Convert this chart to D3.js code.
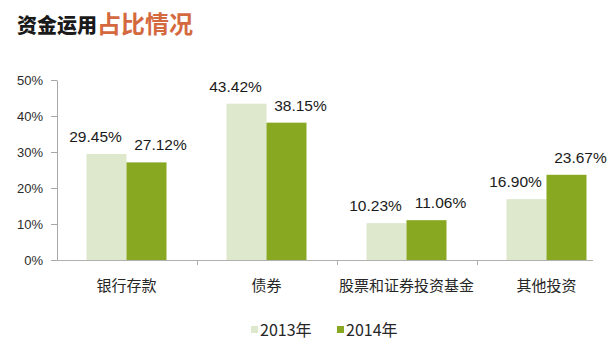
<!DOCTYPE html>
<html>
<head>
<meta charset="utf-8">
<script src="https://cdn.jsdelivr.net/npm/d3@7"></script>
<style>
  body { margin: 0; background: #ffffff; }
  svg { display: block; }
</style>
</head>
<body>
<svg id="chart" width="611" height="352"></svg>
<script>
// data
const categories = ["银行存款", "债券", "股票和证券投资基金", "其他投资"];
const seriesNames = ["2013年", "2014年"];
const values2013 = [29.45, 43.42, 10.23, 16.90];
const values2014 = [27.12, 38.15, 11.06, 23.67];
const yTicks = [0, 10, 20, 30, 40, 50];

const svg = d3.select("#chart");
const seriesColor = d3.scaleOrdinal().domain(seriesNames).range(["#dde8cc", "#89a822"]);
const labelShift = { "2013年": -11, "2014年": 14 }; //labels sit off-centre in the original

//title
const title = svg.append("text")
    .attr("x", 17)
    .attr("y", 33)
    .style("font-family", "'Noto Sans CJK SC'");
title.append("tspan")
    .style("font-size", "20px")
    .style("font-weight", "900")
    .attr("fill", "#1a1a1a")
    .text("资金运用");
title.append("tspan")
    .style("font-size", "24px")
    .style("font-weight", "700")
    .attr("fill", "#d4693f")
    .text("占比情况");

//scales
const x0 = d3.scaleBand()
    .domain(categories)
    .range([56.5, 616.5])
    .padding(0);

const x1 = d3.scaleBand()
    .domain(seriesNames)
    .range([0, 80])
    .padding(0);

const y = d3.scaleLinear()
    .domain([0, 50])
    .range([260, 80]);

const barOffset = (x0.bandwidth() - 80) / 2;

//y axis
const yAxis = svg.append("g")
    .attr("transform", "translate(57,0)")
    .call(d3.axisLeft(y).tickValues(yTicks).tickSize(6).tickSizeOuter(0).tickPadding(8)
        .tickFormat(d => d + "%"));
yAxis.select(".domain").attr("stroke", "#a8a8a8");
yAxis.selectAll(".tick line").attr("stroke", "#a8a8a8");
yAxis.selectAll(".tick text")
    .attr("fill", "#2b2b2b")
    .style("font-family", "'Liberation Sans', Arial, sans-serif")
    .style("font-size", "13px");

//x axis
const xAxis = svg.append("g")
    .attr("transform", `translate(0,${y(0)})`)
    .call(d3.axisBottom(x0).tickSize(0).tickPadding(0));
xAxis.select(".domain").remove();
xAxis.selectAll(".tick text")
    .attr("y", 31)
    .attr("dy", 0)
    .attr("fill", "#262626")
    .style("font-family", "'Noto Sans CJK SC'")
    .style("font-size", "15px");

svg.append("line")
    .attr("x1", 57)
    .attr("x2", 593)
    .attr("y1", y(0) + 0.5)
    .attr("y2", y(0) + 0.5)
    .attr("stroke", "#b0b0b0");

//tick marks between categories
svg.append("g").selectAll("line")
    .data(categories.slice(1))
    .enter()
    .append("line")
    .attr("x1", d => Math.round(x0(d)) + 0.5)
    .attr("x2", d => Math.round(x0(d)) + 0.5)
    .attr("y1", y(0))
    .attr("y2", y(0) + 5)
    .attr("stroke", "#b0b0b0");

//bars
const rows = categories.map((c, i) => ({
    category: c,
    values: [
        { series: seriesNames[0], value: values2013[i] },
        { series: seriesNames[1], value: values2014[i] }
    ]
}));

const groups = svg.append("g").selectAll("g")
    .data(rows)
    .enter()
    .append("g")
    .attr("transform", d => `translate(${x0(d.category) + barOffset},0)`);

groups.selectAll("rect")
    .data(d => d.values)
    .enter()
    .append("rect")
    .attr("x", d => x1(d.series))
    .attr("y", d => y(d.value))
    .attr("width", x1.bandwidth())
    .attr("height", d => y(0) - y(d.value))
    .attr("fill", d => seriesColor(d.series));

//value labels
groups.selectAll("text")
    .data(d => d.values)
    .enter()
    .append("text")
    .attr("x", d => x1(d.series) + x1.bandwidth() / 2 + labelShift[d.series])
    .attr("y", d => y(d.value) - 12)
    .attr("text-anchor", "middle")
    .attr("fill", "#1a1a1a")
    .style("font-family", "'Liberation Sans', Arial, sans-serif")
    .style("font-size", "15.5px")
    .text(d => d.value.toFixed(2) + "%");

//legend
const legend = svg.append("g")
    .attr("transform", "translate(251,326)");

const legendItem = legend.selectAll("g")
    .data(seriesNames)
    .enter()
    .append("g")
    .attr("transform", (d, i) => `translate(${i * 86},0)`);

legendItem.append("rect")
    .attr("width", 7)
    .attr("height", 7)
    .attr("fill", d => seriesColor(d));

legendItem.append("text")
    .attr("x", 9)
    .attr("y", 9.5)
    .attr("fill", "#262626")
    .style("font-family", "'Noto Sans CJK SC'")
    .style("font-size", "16px")
    .text(d => d);
</script>
</body>
</html>
